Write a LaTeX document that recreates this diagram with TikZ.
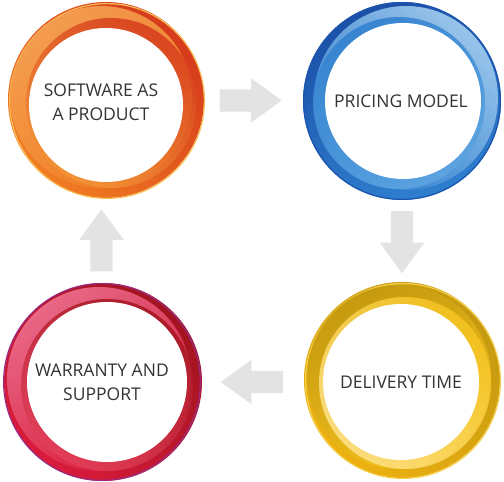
\documentclass[tikz,border=0pt]{standalone}
\usepackage{fontspec}
\setmainfont{Open Sans}
\usetikzlibrary{shapes.arrows,calc}
\definecolor{arrowgray}{HTML}{E3E3E3}
\definecolor{txt}{HTML}{333333}
\definecolor{tlA}{HTML}{D63A1C}
\definecolor{tlB}{HTML}{F07C22}
\definecolor{tlC}{HTML}{F6A455}
\definecolor{tlD}{HTML}{F39436}
\definecolor{tlEdge}{HTML}{F9BE55}
\definecolor{trA}{HTML}{1A4FA6}
\definecolor{trB}{HTML}{2F7FCF}
\definecolor{trC}{HTML}{A6D0F1}
\definecolor{trD}{HTML}{5FA6E2}
\definecolor{trEdge}{HTML}{1B55AE}
\definecolor{blA}{HTML}{A3141F}
\definecolor{blB}{HTML}{D91B3B}
\definecolor{blC}{HTML}{EE7090}
\definecolor{blD}{HTML}{E2405A}
\definecolor{blEdge}{HTML}{9A2A80}
\definecolor{brA}{HTML}{C59A10}
\definecolor{brB}{HTML}{EDB010}
\definecolor{brC}{HTML}{FFE38C}
\definecolor{brD}{HTML}{F6C420}
\definecolor{brEdge}{HTML}{F5CF4A}
\begin{document}
\begin{tikzpicture}[x=1pt,y=1pt,
  lbl/.style={align=center, font=\fontsize{17.5}{24}\selectfont, text=txt, inner sep=0pt},
  blockarrow/.style={single arrow, fill=arrowgray, draw=none, inner xsep=0pt, inner ysep=11pt,
    minimum height=62pt, single arrow head extend=11pt,
    single arrow tip angle=72}]
\useasboundingbox[fill=white] (0,0) rectangle (504,482);

% top-left ring (orange)
\begin{scope}[shift={(106,382)}]
  \shade[top color=tlA, bottom color=tlB, shading angle=-45] (0,0) circle (98);
  \draw[tlEdge, line width=1.2pt] (1,-1) circle (97.4);
  \shade[fill opacity=0.9, top color=tlC, bottom color=tlB, shading angle=35] (-5,3) circle (91);
  \shade[fill opacity=0.85, top color=tlA, bottom color=tlD, shading angle=-30] (5,-3) circle (85);
  \fill[white] (0,-5) circle (77);
\end{scope}

% top-right ring (blue)
\begin{scope}[shift={(402,381)}]
  \shade[top color=trA, bottom color=trB, shading angle=20] (0,0) circle (99);
  \draw[trEdge, line width=1.2pt] (0,0) circle (98.4);
  \shade[fill opacity=0.9, top color=trC, bottom color=trB, shading angle=-40] (4,3) circle (92);
  \shade[fill opacity=0.85, top color=trB, bottom color=trD, shading angle=20] (-3,-2) circle (86);
  \fill[white] (1,0) circle (78);
\end{scope}

% bottom-left ring (red)
\begin{scope}[shift={(103,100)}]
  \shade[top color=blA, bottom color=blB, shading angle=-45] (0,0) circle (99);
  \draw[blEdge, line width=1.2pt] (-1,0) circle (98.4);
  \shade[fill opacity=0.9, top color=blC, bottom color=blB, shading angle=35] (-4,3) circle (92);
  \shade[fill opacity=0.85, top color=blA, bottom color=blD, shading angle=-30] (4,-3) circle (86);
  \fill[white] (4,0) circle (80);
\end{scope}

% bottom-right ring (yellow)
\begin{scope}[shift={(402,102)}]
  \shade[top color=brA, bottom color=brB, shading angle=-45] (0,0) circle (98);
  \draw[brEdge, line width=1.2pt] (1,-1) circle (97.4);
  \shade[fill opacity=0.9, top color=brA, bottom color=brD, shading angle=30] (-3,3) circle (92);
  \shade[fill opacity=0.85, top color=brD, bottom color=brC, shading angle=-45] (3,-3) circle (86);
  \fill[white] (-1,-2) circle (78);
\end{scope}

\node[lbl] (tl) at (101,380) {SOFTWARE AS\\A PRODUCT};
\node[lbl] (tr) at (401,381) {PRICING MODEL};
\node[lbl] (bl) at (102,100) {WARRANTY AND\\SUPPORT};
\node[lbl] (br) at (401,100) {DELIVERY TIME};

\node[blockarrow] (a1) at ($(tl)!0.5!(tr)+(-8,1)$) {};
\node[blockarrow, rotate=-90] (a2) at ($(tr)!0.5!(br)+(1,7)$) {};
\node[blockarrow, rotate=180] (a3) at ($(br)!0.5!(bl)+(8,0)$) {};
\node[blockarrow, rotate=90] (a4) at ($(bl)!0.5!(tl)+(0,-6)$) {};
\end{tikzpicture}
\end{document}
